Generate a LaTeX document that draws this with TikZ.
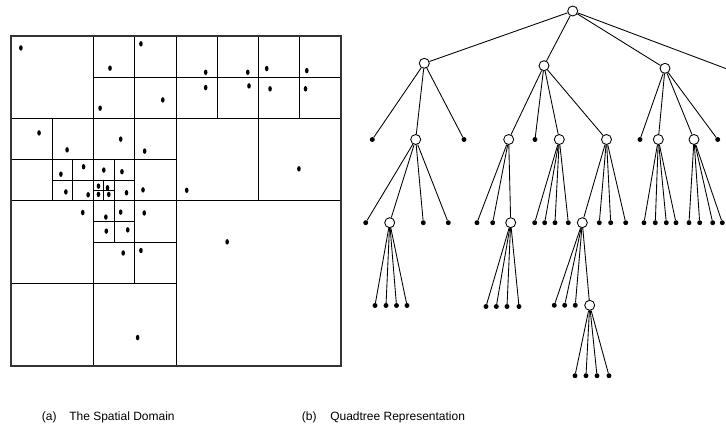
\documentclass[tikz,border=0pt]{standalone}
\usepackage{fontspec}
\setmainfont{Liberation Sans}
\usetikzlibrary{shapes.geometric}
\begin{document}
\begin{tikzpicture}[
	x=0.75pt, y=-0.75pt,
	cellline/.style={ line width=0.75pt },
	borderline/.style={ line width=1.1pt, black!80 },
	datapoint/.style={ ellipse, fill, inner sep=0pt, minimum width=2.7pt, minimum height=4.1pt },
	treeedge/.style={ line width=0.65pt },
	innernode/.style={ circle, draw, fill=white, line width=0.65pt, inner sep=0pt, minimum size=7.5pt },
	leafnode/.style={ circle, fill, inner sep=0pt, minimum size=3.7pt },
	captiontext/.style={ anchor=base west, inner sep=0pt, font=\fontsize{9pt}{11pt}\selectfont }
]
	\useasboundingbox (0,0) rectangle (726,435);

	\begin{scope}[shift={(11,36)}, x=30.9375pt, y=-30.9375pt]
		\draw[cellline] (2,0) -- (2,8);
		\draw[cellline] (4,0) -- (4,8);
		\draw[cellline] (0,2) -- (8,2);
		\draw[cellline] (0,4) -- (8,4);
		\draw[cellline] (3,0) -- (3,6);
		\draw[cellline] (6,0) -- (6,4);
		\draw[cellline] (2,1) -- (8,1);
		\draw[cellline] (5,0) -- (5,2);
		\draw[cellline] (7,0) -- (7,2);
		\draw[cellline] (0,3) -- (4,3);
		\draw[cellline] (1,2) -- (1,4);
		\draw[cellline] (1.5,3) -- (1.5,4);
		\draw[cellline] (1,3.5) -- (3,3.5);
		\draw[cellline] (2.5,3) -- (2.5,5);
		\draw[cellline] (2.25,3.5) -- (2.25,4);
		\draw[cellline] (2,3.75) -- (2.5,3.75);
		\draw[cellline] (0,6) -- (4,6);
		\draw[cellline] (2,5) -- (4,5);
		\draw[cellline] (2,4.5) -- (3,4.5);
		\draw[borderline] (0,0) rectangle (8,8);

		\foreach \px/\py [count=\i] in {0.24/0.29, 2.40/0.78, 3.15/0.19, 2.16/1.75, 3.68/1.55,
			4.72/0.88, 4.72/1.25, 5.74/0.88, 5.77/1.21, 6.20/0.79, 6.28/1.28, 7.17/0.84, 7.14/1.28,
			0.68/2.35, 1.36/2.76, 1.21/3.35, 1.76/3.17, 1.33/3.78, 1.87/3.85,
			2.66/2.50, 3.24/2.79, 3.20/3.73, 2.25/3.25, 2.69/3.29,
			2.12/3.64, 2.34/3.68, 2.12/3.84, 2.37/3.84, 2.80/3.80,
			4.26/3.74, 6.98/3.22, 1.74/4.28, 2.30/4.39, 2.66/4.27, 2.31/4.73, 2.83/4.70,
			3.23/4.29, 2.72/5.26, 3.15/5.20, 3.07/7.31, 5.24/4.99}
			{ \node[datapoint] (pt\i) at (\px,\py) {}; }
	\end{scope}

	\node[innernode] (root) at (572.7,11) {};
	\node[innernode] (qa) at (424.3,63.3) {};
	\node[innernode] (qb) at (544,65.7) {};
	\node[innernode] (qc) at (665,68.3) {};
	\coordinate (qd) at (726,68.6);
	\foreach \q in {qa,qb,qc,qd} { \draw[treeedge] (root) -- (\q); }

	\node[leafnode] (qa1) at (372.3,139.5) {};
	\node[innernode] (qa2) at (415.7,139.5) {};
	\node[leafnode] (qa3) at (464,139.5) {};
	\node[innernode] (qb1) at (508.7,139.5) {};
	\node[leafnode] (qb2) at (535,139.5) {};
	\node[innernode] (qb3) at (559.3,139.5) {};
	\node[innernode] (qb4) at (606.5,139.5) {};
	\node[leafnode] (qc1) at (640,139.5) {};
	\node[innernode] (qc2) at (658.3,139.5) {};
	\node[innernode] (qc3) at (694,139.5) {};
	\node[leafnode] (qc4) at (717.7,139.5) {};
	\foreach \q in {qa1,qa2,qa3} { \draw[treeedge] (qa) -- (\q); }
	\foreach \q in {qb1,qb2,qb3,qb4} { \draw[treeedge] (qb) -- (\q); }
	\foreach \q in {qc1,qc2,qc3,qc4} { \draw[treeedge] (qc) -- (\q); }

	\node[leafnode] (qa21) at (365.7,222.7) {};
	\node[innernode] (qa22) at (389.7,222.7) {};
	\node[leafnode] (qa23) at (423.3,222.7) {};
	\node[leafnode] (qa24) at (448.3,222.7) {};
	\foreach \q in {qa21,qa22,qa23,qa24} { \draw[treeedge] (qa2) -- (\q); }
	\node[leafnode] (qb11) at (477,222.7) {};
	\node[leafnode] (qb12) at (492.7,222.7) {};
	\node[innernode] (qb13) at (510.7,222.7) {};
	\foreach \q in {qb11,qb12,qb13} { \draw[treeedge] (qb1) -- (\q); }
	\foreach \x [count=\i] in {534.7,544.7,555,568.3} { \node[leafnode] (qb3\i) at (\x,222.7) {}; \draw[treeedge] (qb3) -- (qb3\i); }
	\node[innernode] (qb41) at (582.3,222.7) {};
	\foreach \x [count=\i from 2] in {599.3,610.7,625.7} { \node[leafnode] (qb4\i) at (\x,222.7) {}; }
	\foreach \q in {qb41,qb42,qb43,qb44} { \draw[treeedge] (qb4) -- (\q); }
	\foreach \x [count=\i] in {644,655.3,666.3,676} { \node[leafnode] (qc2\i) at (\x,222.7) {}; \draw[treeedge] (qc2) -- (qc2\i); }
	\foreach \x [count=\i] in {689,699.7,712.7,722.3} { \node[leafnode] (qc3\i) at (\x,222.7) {}; \draw[treeedge] (qc3) -- (qc3\i); }

	\foreach \x [count=\i] in {375,386,396.5,407} { \node[leafnode] (qa22\i) at (\x,305.5) {}; \draw[treeedge] (qa22) -- (qa22\i); }
	\foreach \x [count=\i] in {486,496.3,507,519} { \node[leafnode] (qb13\i) at (\x,306.5) {}; \draw[treeedge] (qb13) -- (qb13\i); }
	\foreach \x [count=\i] in {554.3,564.7,575.3} { \node[leafnode] (qb41\i) at (\x,305.3) {}; }
	\node[innernode] (qb414) at (589.7,305.3) {};
	\foreach \q in {qb411,qb412,qb413,qb414} { \draw[treeedge] (qb41) -- (\q); }
	\foreach \x [count=\i] in {575,586,597,609} { \node[leafnode] (qb414\i) at (\x,375.7) {}; \draw[treeedge] (qb414) -- (qb414\i); }

	\node[captiontext] (capa) at (41.7,420.5) {(a)};
	\node[captiontext] (capatext) at (69,420.5) {The Spatial Domain};
	\node[captiontext] (capb) at (301.7,420.5) {(b)};
	\node[captiontext] (capbtext) at (330,420.5) {Quadtree Representation};
\end{tikzpicture}
\end{document}
